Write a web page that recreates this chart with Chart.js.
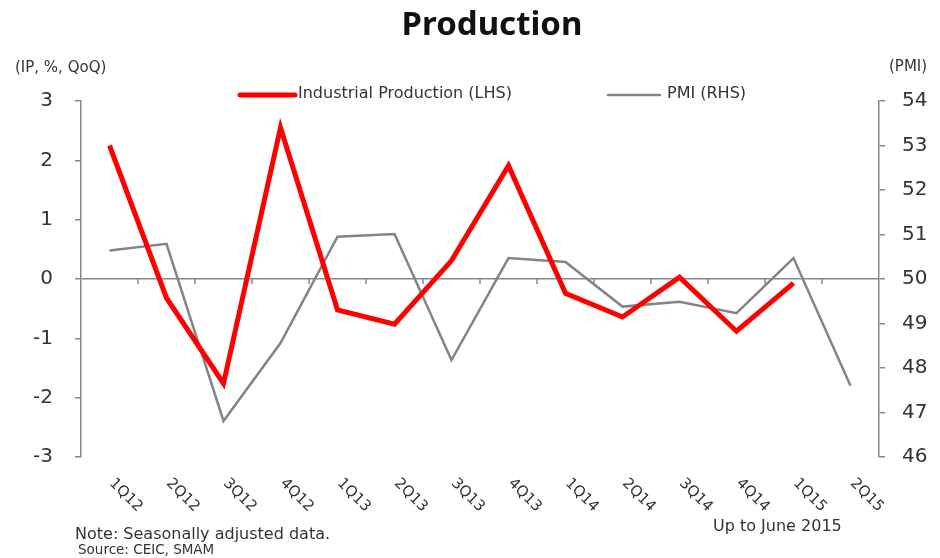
<!DOCTYPE html>
<html>
<head>
<meta charset="utf-8">
<script src="https://cdn.jsdelivr.net/npm/chart.js@4.4.0/dist/chart.umd.min.js"></script>
<style>
  html, body { margin: 0; padding: 0; background: #fff; }
</style>
</head>
<body>
<canvas id="prodChart" width="940" height="558"></canvas>
<script>
// Quarters on the x axis
const quarters = ["1Q12", "2Q12", "3Q12", "4Q12", "1Q13", "2Q13", "3Q13",
  "4Q13", "1Q14", "2Q14", "3Q14", "4Q14", "1Q15", "2Q15"];

// Industrial production, % QoQ (left axis), up to 1Q15
const ipValues = [2.25, -0.32, -1.76, 2.55, -0.52, -0.76, 0.31,
  1.91, -0.24, -0.64, 0.03, -0.88, -0.07];

// PMI (right axis)
const pmiValues = [50.64, 50.79, 46.81, 48.56, 50.95, 51.01, 48.18,
  50.47, 50.38, 49.38, 49.49, 49.23, 50.47, 47.6];

const leftRange = [-3, 3];
const rightRange = [46, 54];

const FONT = "'DejaVu Sans', Verdana, sans-serif";
const TITLE_FONT = "'Noto Sans', sans-serif";
const AXIS_GREY = "#888888";
const TEXT = "#333333";

// draws title, legend, axis titles, tick marks on the zero line, rotated labels and notes
const decorPlugin = {
  id: "decor",
  afterDraw(chart) {
    const ctx = chart.ctx;
    const x = chart.scales.x;
    const yL = chart.scales.yL;
    ctx.save();

    // title
    ctx.fillStyle = "#111";
    ctx.font = "bold 33px " + TITLE_FONT;
    ctx.textAlign = "center";
    ctx.textBaseline = "middle";
    ctx.fillText("Production", 492, 26);

    // axis titles
    ctx.font = "15px " + FONT;
    ctx.fillStyle = TEXT;
    ctx.textAlign = "left";
    ctx.fillText("(IP, %, QoQ)", 15, 68);
    ctx.fillText("(PMI)", 889, 67);

    // legend
    ctx.font = "16px " + FONT;
    const items = [
      { ds: chart.data.datasets[0], x0: 240, x1: 295, tx: 298 },
      { ds: chart.data.datasets[1], x0: 608, x1: 660, tx: 667 }
    ];
    items.forEach(function (it) {
      ctx.strokeStyle = it.ds.borderColor;
      ctx.lineWidth = it.ds.borderWidth;
      ctx.lineCap = "round";
      ctx.beginPath();
      ctx.moveTo(it.x0, 95);
      ctx.lineTo(it.x1, 95);
      ctx.stroke();
      ctx.fillStyle = TEXT;
      ctx.fillText(it.ds.label, it.tx, 94);
    });

    // small ticks on the zero line between categories
    const zeroY = yL.getPixelForValue(0);
    ctx.strokeStyle = AXIS_GREY;
    ctx.lineWidth = 1.5;
    ctx.lineCap = "butt";
    for (let i = 1; i < quarters.length; i++) {
      const px = (x.getPixelForValue(i - 1) + x.getPixelForValue(i)) / 2;
      ctx.beginPath();
      ctx.moveTo(px, zeroY);
      ctx.lineTo(px, zeroY + 5);
      ctx.stroke();
    }

    // rotated category labels
    ctx.fillStyle = TEXT;
    ctx.font = "15px " + FONT;
    ctx.textAlign = "left";
    ctx.textBaseline = "middle";
    quarters.forEach(function (q, i) {
      const px = x.getPixelForValue(i);
      ctx.save();
      ctx.translate(px + 2, 481);
      ctx.rotate(Math.PI / 4);
      ctx.fillText(q, 0, 0);
      ctx.restore();
    });

    // notes
    ctx.font = "16px " + FONT;
    ctx.fillText("Note: Seasonally adjusted data.", 75, 535);
    ctx.fillText("Up to June 2015", 713, 527);
    ctx.font = "13.5px " + FONT;
    ctx.fillText("Source: CEIC, SMAM", 78, 550);

    ctx.restore();
  }
};

const ctxProd = document.getElementById("prodChart").getContext("2d");

new Chart(ctxProd, {
  type: "line",
  data: {
    labels: quarters,
    datasets: [
      {
        label: "Industrial Production (LHS)",
        data: ipValues,
        yAxisID: "yL",
        borderColor: "#ff0000",
        borderWidth: 5,
        pointRadius: 0,
        tension: 0,
        fill: false,
        order: 1
      },
      {
        label: "PMI (RHS)",
        data: pmiValues,
        yAxisID: "yR",
        borderColor: "#848484",
        borderWidth: 2.5,
        pointRadius: 0,
        tension: 0,
        fill: false,
        order: 2
      }
    ]
  },
  options: {
    responsive: false,
    animation: false,
    devicePixelRatio: 1,
    layout: { padding: { top: 101, bottom: 101, left: 0, right: 0 } },
    plugins: {
      legend: { display: false },
      title: { display: false },
      tooltip: { enabled: false }
    },
    scales: {
      x: {
        display: false,
        offset: true
      },
      yL: {
        position: "left",
        min: leftRange[0],
        max: leftRange[1],
        afterFit: function (scale) { scale.width = 81; },
        ticks: {
          stepSize: 1,
          padding: 22,
          color: TEXT,
          font: { family: FONT, size: 20 }
        },
        border: { display: true, color: AXIS_GREY, width: 1.5 },
        grid: {
          drawTicks: true,
          tickLength: 6,
          tickColor: AXIS_GREY,
          lineWidth: 1.5,
          color: function (c) {
            return c.tick && c.tick.value === 0 ? AXIS_GREY : "rgba(0,0,0,0)";
          }
        }
      },
      yR: {
        position: "right",
        min: rightRange[0],
        max: rightRange[1],
        afterFit: function (scale) { scale.width = 61; },
        ticks: {
          stepSize: 1,
          padding: 17,
          color: TEXT,
          font: { family: FONT, size: 20 }
        },
        border: { display: true, color: AXIS_GREY, width: 1.5 },
        grid: {
          drawOnChartArea: false,
          drawTicks: true,
          tickLength: 6,
          tickColor: AXIS_GREY,
          lineWidth: 1.5
        }
      }
    }
  },
  plugins: [decorPlugin]
});
</script>
</body>
</html>
